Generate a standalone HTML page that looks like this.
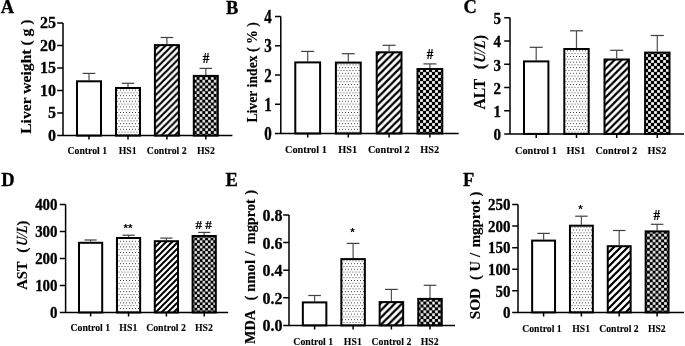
<!DOCTYPE html>
<html><head><meta charset="utf-8"><style>
html,body{margin:0;padding:0;background:#fff;}
svg{display:block;}
.b{font-family:"Liberation Serif", "Noto Serif CJK SC", serif;font-weight:bold;fill:#000;stroke:#000;stroke-width:0.3px;}
.lt{font-size:18.5px;}
.xl{stroke-width:0.1px;}
.yl{stroke-width:0.15px;}
.hs{font-size:15px;stroke-width:0.2px;}
.st{font-family:"Liberation Sans",sans-serif;font-weight:bold;font-size:11.5px;fill:#000;}
.ax{stroke:#000;stroke-width:1.5;fill:none;}
.e{stroke:#404040;stroke-width:1.2;fill:none;}
.ev{stroke:#555;stroke-width:1.25;}
.bar{stroke:#000;stroke-width:2;}
</style></head><body>
<svg width="685" height="346" viewBox="0 0 685 346">
<defs>
<pattern id="dots" patternUnits="userSpaceOnUse" width="3" height="5.6">
<rect x="0" y="0" width="1" height="1" fill="#444"/>
<rect x="1.5" y="2.8" width="1" height="1" fill="#444"/>
</pattern>
<pattern id="hA" patternUnits="userSpaceOnUse" width="6.6" height="6.6"><path d="M-1.65 1.65L1.65 -1.65M0 6.6L6.6 0M4.95 8.25L8.25 4.95" stroke="#000" stroke-width="2.15"/></pattern><pattern id="cA" patternUnits="userSpaceOnUse" width="5.7" height="5.7"><rect width="5.7" height="5.7" fill="#000"/><rect x="3" y="0.15" width="2.55" height="2.55" fill="#fff"/><rect x="0.15" y="3" width="2.55" height="2.55" fill="#fff"/></pattern><pattern id="hB" patternUnits="userSpaceOnUse" width="7.2" height="7.2"><path d="M-1.8 1.8L1.8 -1.8M0 7.2L7.2 0M5.4 9L9 5.4" stroke="#000" stroke-width="2.34"/></pattern><pattern id="cB" patternUnits="userSpaceOnUse" width="6" height="6"><rect width="6" height="6" fill="#000"/><rect x="3.15" y="0.15" width="2.7" height="2.7" fill="#fff"/><rect x="0.15" y="3.15" width="2.7" height="2.7" fill="#fff"/></pattern><pattern id="hC" patternUnits="userSpaceOnUse" width="7.1" height="7.1"><path d="M-1.77 1.77L1.77 -1.77M0 7.1L7.1 0M5.32 8.88L8.88 5.32" stroke="#000" stroke-width="2.31"/></pattern><pattern id="cC" patternUnits="userSpaceOnUse" width="6" height="6"><rect width="6" height="6" fill="#000"/><rect x="3.15" y="0.15" width="2.7" height="2.7" fill="#fff"/><rect x="0.15" y="3.15" width="2.7" height="2.7" fill="#fff"/></pattern><pattern id="hD" patternUnits="userSpaceOnUse" width="6" height="6"><path d="M-1.5 1.5L1.5 -1.5M0 6L6 0M4.5 7.5L7.5 4.5" stroke="#000" stroke-width="1.95"/></pattern><pattern id="cD" patternUnits="userSpaceOnUse" width="5.4" height="5.4"><rect width="5.4" height="5.4" fill="#000"/><rect x="2.85" y="0.15" width="2.4" height="2.4" fill="#fff"/><rect x="0.15" y="2.85" width="2.4" height="2.4" fill="#fff"/></pattern><pattern id="hE" patternUnits="userSpaceOnUse" width="7.2" height="7.2"><path d="M-1.8 1.8L1.8 -1.8M0 7.2L7.2 0M5.4 9L9 5.4" stroke="#000" stroke-width="2.34"/></pattern><pattern id="cE" patternUnits="userSpaceOnUse" width="5.8" height="5.8"><rect width="5.8" height="5.8" fill="#000"/><rect x="3.05" y="0.15" width="2.6" height="2.6" fill="#fff"/><rect x="0.15" y="3.05" width="2.6" height="2.6" fill="#fff"/></pattern><pattern id="hF" patternUnits="userSpaceOnUse" width="7" height="7"><path d="M-1.75 1.75L1.75 -1.75M0 7L7 0M5.25 8.75L8.75 5.25" stroke="#000" stroke-width="2.28"/></pattern><pattern id="cF" patternUnits="userSpaceOnUse" width="5.7" height="5.7"><rect width="5.7" height="5.7" fill="#000"/><rect x="3" y="0.15" width="2.55" height="2.55" fill="#fff"/><rect x="0.15" y="3" width="2.55" height="2.55" fill="#fff"/></pattern>
</defs>
<rect width="685" height="346" fill="#fff"/>
<text x="0.7" y="13.4" class="b lt">A</text>
<path d="M89 80.3V73.4" class="e ev"/><path d="M82.7 73.4H95.3" class="e"/>
<rect x="77" y="81.3" width="24" height="54.3" fill="#fff" class="bar"/>
<path d="M128 87V83.3" class="e ev"/><path d="M121.7 83.3H134.3" class="e"/>
<rect x="116" y="88" width="24" height="47.6" fill="url(#dots)" class="bar"/>
<path d="M166.9 44.1V37.5" class="e ev"/><path d="M160.6 37.5H173.2" class="e"/>
<rect x="154.9" y="45.1" width="24" height="90.5" fill="url(#hA)" class="bar"/>
<path d="M205.8 74.9V68.4" class="e ev"/><path d="M199.5 68.4H212.1" class="e"/>
<rect x="193.8" y="75.9" width="24" height="59.7" fill="url(#cA)" class="bar"/>
<path d="M63 23.1V135.6H232.4M57.2 135.6H63M57.2 113.1H63M57.2 90.6H63M57.2 68.1H63M57.2 45.6H63M57.2 23.1H63M89 135.6V139.6M128 135.6V139.6M166.9 135.6V139.6M205.8 135.6V139.6" class="ax"/>
<text transform="translate(56 140.89)" font-size="16" class="b" text-anchor="end">0</text>
<text transform="translate(56 118.39)" font-size="16" class="b" text-anchor="end">5</text>
<text transform="translate(56 95.89)" font-size="16" class="b" text-anchor="end">10</text>
<text transform="translate(56 73.39)" font-size="16" class="b" text-anchor="end">15</text>
<text transform="translate(56 50.89)" font-size="16" class="b" text-anchor="end">20</text>
<text transform="translate(56 28.39)" font-size="16" class="b" text-anchor="end">25</text>
<text transform="translate(87.3 154.4) scale(1 1.07)" class="b xl" font-size="9.8" text-anchor="middle">Control 1</text>
<text transform="translate(127.6 154.4) scale(1 1.07)" class="b xl" font-size="9.8" text-anchor="middle">HS1</text>
<text transform="translate(166.7 154.4) scale(1 1.07)" class="b xl" font-size="9.8" text-anchor="middle">Control 2</text>
<text transform="translate(205.9 154.4) scale(1 1.07)" class="b xl" font-size="9.8" text-anchor="middle">HS2</text>
<text transform="translate(30.6 133.8) rotate(-90)" font-size="15" class="b yl" textLength="114.3" lengthAdjust="spacingAndGlyphs">Liver weight ( g )</text>
<text transform="translate(205.95 63.1) scale(0.88 1)" class="b hs" text-anchor="middle">#</text>
<text x="226" y="13.5" class="b lt">B</text>
<path d="M307.7 61.4V51.4" class="e ev"/><path d="M301.2 51.4H314.2" class="e"/>
<rect x="295.3" y="62.4" width="24.8" height="71.1" fill="#fff" class="bar"/>
<path d="M348.3 61.6V53.7" class="e ev"/><path d="M341.8 53.7H354.8" class="e"/>
<rect x="335.9" y="62.6" width="24.8" height="70.9" fill="url(#dots)" class="bar"/>
<path d="M389.1 51.3V45.3" class="e ev"/><path d="M382.6 45.3H395.6" class="e"/>
<rect x="376.7" y="52.3" width="24.8" height="81.2" fill="url(#hB)" class="bar"/>
<path d="M429.9 68V63.9" class="e ev"/><path d="M423.4 63.9H436.4" class="e"/>
<rect x="417.5" y="69" width="24.8" height="64.5" fill="url(#cB)" class="bar"/>
<path d="M280.8 16.5V133.5H458.7M275 133.5H280.8M275 104.25H280.8M275 75H280.8M275 45.75H280.8M275 16.5H280.8M307.7 133.5V137.5M348.3 133.5V137.5M389.1 133.5V137.5M429.9 133.5V137.5" class="ax"/>
<text transform="translate(271.8 140.06) scale(1 1.2)" font-size="15" class="b" text-anchor="end">0</text>
<text transform="translate(271.8 110.81) scale(1 1.2)" font-size="15" class="b" text-anchor="end">1</text>
<text transform="translate(271.8 81.56) scale(1 1.2)" font-size="15" class="b" text-anchor="end">2</text>
<text transform="translate(271.8 52.31) scale(1 1.2)" font-size="15" class="b" text-anchor="end">3</text>
<text transform="translate(271.8 23.06) scale(1 1.2)" font-size="15" class="b" text-anchor="end">4</text>
<text transform="translate(305.9 153.2) scale(1 1.07)" class="b xl" font-size="10.3" text-anchor="middle">Control 1</text>
<text transform="translate(347.7 153.2) scale(1 1.07)" class="b xl" font-size="10.3" text-anchor="middle">HS1</text>
<text transform="translate(388.8 153.2) scale(1 1.07)" class="b xl" font-size="10.3" text-anchor="middle">Control 2</text>
<text transform="translate(429.8 153.2) scale(1 1.07)" class="b xl" font-size="10.3" text-anchor="middle">HS2</text>
<text transform="translate(257 122.6) rotate(-90)" font-size="14.5" class="b yl" textLength="100.4" lengthAdjust="spacingAndGlyphs">Liver index ( % )</text>
<text transform="translate(430 59.3) scale(0.88 1)" class="b hs" text-anchor="middle">#</text>
<text x="463.6" y="13.4" class="b lt">C</text>
<path d="M536.2 60.4V47.3" class="e ev"/><path d="M529.7 47.3H542.7" class="e"/>
<rect x="524" y="61.4" width="24.4" height="72.5" fill="#fff" class="bar"/>
<path d="M576.5 48V30.8" class="e ev"/><path d="M570 30.8H583" class="e"/>
<rect x="564.3" y="49" width="24.4" height="84.9" fill="url(#dots)" class="bar"/>
<path d="M616.7 58.5V50.3" class="e ev"/><path d="M610.2 50.3H623.2" class="e"/>
<rect x="604.5" y="59.5" width="24.4" height="74.4" fill="url(#hC)" class="bar"/>
<path d="M657.3 51.6V35.5" class="e ev"/><path d="M650.8 35.5H663.8" class="e"/>
<rect x="645.1" y="52.6" width="24.4" height="81.3" fill="url(#cC)" class="bar"/>
<path d="M510 17.7V133.9H684M504.2 133.9H510M504.2 110.66H510M504.2 87.42H510M504.2 64.18H510M504.2 40.94H510M504.2 17.7H510M536.2 133.9V137.9M576.5 133.9V137.9M616.7 133.9V137.9M657.3 133.9V137.9" class="ax"/>
<text transform="translate(501 140.35) scale(1 1.1)" font-size="15" class="b" text-anchor="end">0</text>
<text transform="translate(501 117.11) scale(1 1.1)" font-size="15" class="b" text-anchor="end">1</text>
<text transform="translate(501 93.87) scale(1 1.1)" font-size="15" class="b" text-anchor="end">2</text>
<text transform="translate(501 70.63) scale(1 1.1)" font-size="15" class="b" text-anchor="end">3</text>
<text transform="translate(501 47.39) scale(1 1.1)" font-size="15" class="b" text-anchor="end">4</text>
<text transform="translate(501 24.15) scale(1 1.1)" font-size="15" class="b" text-anchor="end">5</text>
<text transform="translate(535.9 153.5) scale(1 1.07)" class="b xl" font-size="10.3" text-anchor="middle">Control 1</text>
<text transform="translate(576 153.5) scale(1 1.07)" class="b xl" font-size="10.3" text-anchor="middle">HS1</text>
<text transform="translate(616.3 153.5) scale(1 1.07)" class="b xl" font-size="10.3" text-anchor="middle">Control 2</text>
<text transform="translate(656.9 153.5) scale(1 1.07)" class="b xl" font-size="10.3" text-anchor="middle">HS2</text>
<text transform="translate(485 109.56) rotate(-90) scale(0.9787 1)" font-size="16" class="b yl">ALT</text>
<text transform="translate(485 69.31) rotate(-90)" font-size="16" class="b yl">(</text>
<text transform="translate(485 63.12) rotate(-90) scale(0.8754 1) skewX(-7)" font-size="16" class="b yl" font-style="italic">U/L</text>
<text transform="translate(485 40.21) rotate(-90)" font-size="16" class="b yl">)</text>
<text x="1.2" y="186.2" class="b lt">D</text>
<path d="M90.6 241.8V240" class="e ev"/><path d="M84.5 240H96.7" class="e"/>
<rect x="79" y="242.8" width="23.2" height="69.7" fill="#fff" class="bar"/>
<path d="M128.55 237V235.2" class="e ev"/><path d="M122.45 235.2H134.65" class="e"/>
<rect x="116.95" y="238" width="23.2" height="74.5" fill="url(#dots)" class="bar"/>
<path d="M166.4 240.2V238.1" class="e ev"/><path d="M160.3 238.1H172.5" class="e"/>
<rect x="154.8" y="241.2" width="23.2" height="71.3" fill="url(#hD)" class="bar"/>
<path d="M204.2 235V232.4" class="e ev"/><path d="M198.1 232.4H210.3" class="e"/>
<rect x="192.6" y="236" width="23.2" height="76.5" fill="url(#cD)" class="bar"/>
<path d="M65.6 204.5V312.5H228.2M59.8 312.5H65.6M59.8 285.5H65.6M59.8 258.5H65.6M59.8 231.5H65.6M59.8 204.5H65.6M90.6 312.5V316.5M128.55 312.5V316.5M166.4 312.5V316.5M204.2 312.5V316.5" class="ax"/>
<text transform="translate(57.6 318.25) scale(1 1.1)" font-size="15" class="b" text-anchor="end">0</text>
<text transform="translate(57.6 291.25) scale(1 1.1)" font-size="15" class="b" text-anchor="end">100</text>
<text transform="translate(57.6 264.25) scale(1 1.1)" font-size="15" class="b" text-anchor="end">200</text>
<text transform="translate(57.6 237.25) scale(1 1.1)" font-size="15" class="b" text-anchor="end">300</text>
<text transform="translate(57.6 210.25) scale(1 1.1)" font-size="15" class="b" text-anchor="end">400</text>
<text transform="translate(90.3 331.4) scale(1 1.07)" class="b xl" font-size="9.8" text-anchor="middle">Control 1</text>
<text transform="translate(128.3 331.4) scale(1 1.07)" class="b xl" font-size="9.8" text-anchor="middle">HS1</text>
<text transform="translate(166 331.4) scale(1 1.07)" class="b xl" font-size="9.8" text-anchor="middle">Control 2</text>
<text transform="translate(203.9 331.4) scale(1 1.07)" class="b xl" font-size="9.8" text-anchor="middle">HS2</text>
<text transform="translate(26.8 289.74) rotate(-90) scale(0.9341 1)" font-size="15.5" class="b yl">AST</text>
<text transform="translate(26.8 252.87) rotate(-90)" font-size="15.5" class="b yl">(</text>
<text transform="translate(26.8 246.32) rotate(-90) scale(0.8211 1) skewX(-7)" font-size="15.5" class="b yl" font-style="italic">U/L</text>
<text transform="translate(26.8 225.68) rotate(-90)" font-size="15.5" class="b yl">)</text>
<text x="128.1" y="231.7" class="st" text-anchor="middle">**</text>
<text transform="translate(203.65 229.1) scale(0.88 0.9)" class="b hs" text-anchor="middle"># #</text>
<text x="225.4" y="186.2" class="b lt">E</text>
<path d="M314.6 301.4V295.5" class="e ev"/><path d="M308.3 295.5H320.9" class="e"/>
<rect x="302.85" y="302.4" width="23.5" height="23" fill="#fff" class="bar"/>
<path d="M353.1 258.1V243.4" class="e ev"/><path d="M346.8 243.4H359.4" class="e"/>
<rect x="341.35" y="259.1" width="23.5" height="66.3" fill="url(#dots)" class="bar"/>
<path d="M391.4 301.1V289.4" class="e ev"/><path d="M385.1 289.4H397.7" class="e"/>
<rect x="379.65" y="302.1" width="23.5" height="23.3" fill="url(#hE)" class="bar"/>
<path d="M430 297.9V285.3" class="e ev"/><path d="M423.7 285.3H436.3" class="e"/>
<rect x="418.25" y="298.9" width="23.5" height="26.5" fill="url(#cE)" class="bar"/>
<path d="M289 215V325.4H455M283.2 325.4H289M283.2 297.8H289M283.2 270.2H289M283.2 242.6H289M283.2 215H289M314.6 325.4V329.4M353.1 325.4V329.4M391.4 325.4V329.4M430 325.4V329.4" class="ax"/>
<text transform="translate(282.5 331.49)" font-size="16" class="b" text-anchor="end">0.0</text>
<text transform="translate(282.5 303.89)" font-size="16" class="b" text-anchor="end">0.2</text>
<text transform="translate(282.5 276.29)" font-size="16" class="b" text-anchor="end">0.4</text>
<text transform="translate(282.5 248.69)" font-size="16" class="b" text-anchor="end">0.6</text>
<text transform="translate(282.5 221.09)" font-size="16" class="b" text-anchor="end">0.8</text>
<text transform="translate(313.2 344.8) scale(1 1.07)" class="b xl" font-size="9.8" text-anchor="middle">Control 1</text>
<text transform="translate(352.8 344.8) scale(1 1.07)" class="b xl" font-size="9.8" text-anchor="middle">HS1</text>
<text transform="translate(391.4 344.8) scale(1 1.07)" class="b xl" font-size="9.8" text-anchor="middle">Control 2</text>
<text transform="translate(429.7 344.8) scale(1 1.07)" class="b xl" font-size="9.8" text-anchor="middle">HS2</text>
<text transform="translate(254.5 344.01) rotate(-90) scale(0.9856 1)" font-size="14.5" class="b yl">MDA</text>
<text transform="translate(254.5 300.55) rotate(-90)" font-size="14.5" class="b yl">(</text>
<text transform="translate(254.5 291.66) rotate(-90) scale(1.0061 1)" font-size="14.5" class="b yl">nmol</text>
<text transform="translate(254.5 255.53) rotate(-90)" font-size="14.5" class="b yl">/</text>
<text transform="translate(254.5 244.26) rotate(-90) scale(0.9903 1)" font-size="14.5" class="b yl">mgprot</text>
<text transform="translate(254.5 194.67) rotate(-90)" font-size="14.5" class="b yl">)</text>
<text x="352.6" y="236.3" class="st" text-anchor="middle">*</text>
<text x="462.9" y="186" class="b lt">F</text>
<path d="M543.6 239.6V233.4" class="e ev"/><path d="M537.35 233.4H549.85" class="e"/>
<rect x="532.15" y="240.6" width="22.9" height="71.8" fill="#fff" class="bar"/>
<path d="M581.4 224.7V216.2" class="e ev"/><path d="M575.15 216.2H587.65" class="e"/>
<rect x="569.95" y="225.7" width="22.9" height="86.7" fill="url(#dots)" class="bar"/>
<path d="M619.2 245.2V230.5" class="e ev"/><path d="M612.95 230.5H625.45" class="e"/>
<rect x="607.75" y="246.2" width="22.9" height="66.2" fill="url(#hF)" class="bar"/>
<path d="M657.1 230.4V224.3" class="e ev"/><path d="M650.85 224.3H663.35" class="e"/>
<rect x="645.65" y="231.4" width="22.9" height="81" fill="url(#cF)" class="bar"/>
<path d="M518 204.5V312.4H684M512.2 312.4H518M512.2 290.82H518M512.2 269.24H518M512.2 247.66H518M512.2 226.08H518M512.2 204.5H518M543.6 312.4V316.4M581.4 312.4V316.4M619.2 312.4V316.4M657.1 312.4V316.4" class="ax"/>
<text transform="translate(510.5 318.1) scale(1 1.05)" font-size="15" class="b" text-anchor="end">0</text>
<text transform="translate(510.5 296.52) scale(1 1.05)" font-size="15" class="b" text-anchor="end">50</text>
<text transform="translate(510.5 274.94) scale(1 1.05)" font-size="15" class="b" text-anchor="end">100</text>
<text transform="translate(510.5 253.36) scale(1 1.05)" font-size="15" class="b" text-anchor="end">150</text>
<text transform="translate(510.5 231.78) scale(1 1.05)" font-size="15" class="b" text-anchor="end">200</text>
<text transform="translate(510.5 210.2) scale(1 1.05)" font-size="15" class="b" text-anchor="end">250</text>
<text transform="translate(541.9 331.8) scale(1 1.07)" class="b xl" font-size="9.7" text-anchor="middle">Control 1</text>
<text transform="translate(581.1 331.8) scale(1 1.07)" class="b xl" font-size="9.7" text-anchor="middle">HS1</text>
<text transform="translate(618.9 331.8) scale(1 1.07)" class="b xl" font-size="9.7" text-anchor="middle">Control 2</text>
<text transform="translate(656.8 331.8) scale(1 1.07)" class="b xl" font-size="9.7" text-anchor="middle">HS2</text>
<text transform="translate(479.8 319.34) rotate(-90) scale(1.0548 1)" font-size="14.5" class="b yl">SOD</text>
<text transform="translate(479.8 280) rotate(-90)" font-size="14.5" class="b yl">(</text>
<text transform="translate(479.8 271.46) rotate(-90)" font-size="14.5" class="b yl">U</text>
<text transform="translate(479.8 256.93) rotate(-90)" font-size="14.5" class="b yl">/</text>
<text transform="translate(479.8 247.37) rotate(-90) scale(1.0323 1)" font-size="14.5" class="b yl">mgprot</text>
<text transform="translate(479.8 196.62) rotate(-90)" font-size="14.5" class="b yl">)</text>
<text x="580.6" y="213" class="st" text-anchor="middle">*</text>
<text transform="translate(656.8 220) scale(0.88 1)" class="b hs" text-anchor="middle">#</text>
</svg>
</body></html>
